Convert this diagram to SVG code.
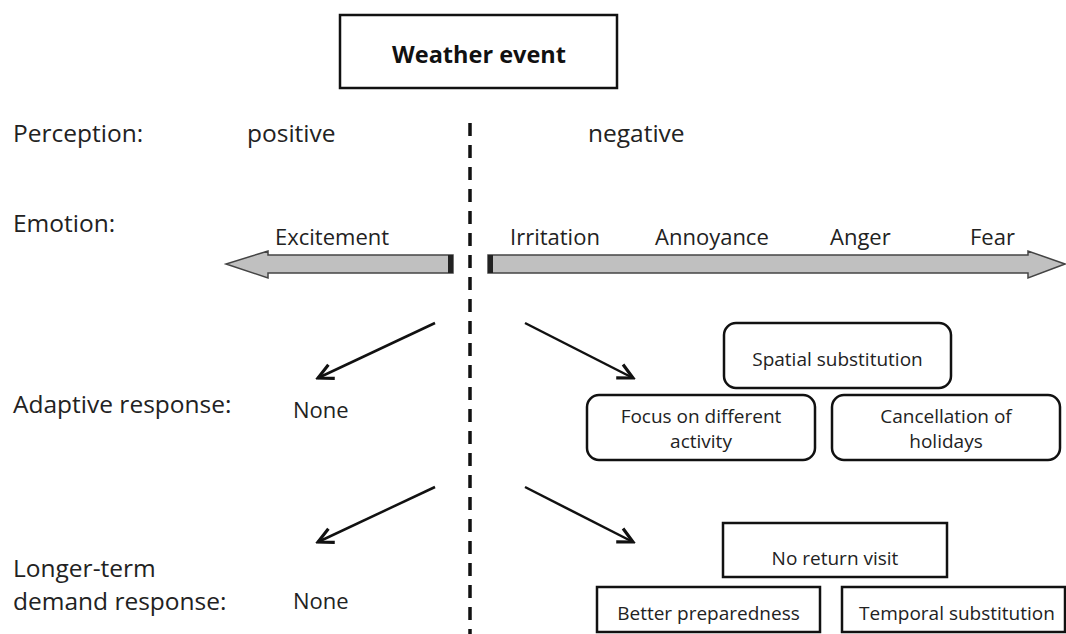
<svg xmlns="http://www.w3.org/2000/svg" width="1066" height="634" viewBox="0 0 1066 634">
<defs>
<style>
.lbl{font-family:"Open Sans","Liberation Sans",sans-serif;font-size:24.5px;fill:#222}
.emo{font-family:"Open Sans","Liberation Sans",sans-serif;font-size:22px;fill:#222}
.bx{font-family:"Open Sans","Liberation Sans",sans-serif;font-size:19px;fill:#222;text-anchor:middle}
.box{fill:#fff;stroke:#111;stroke-width:2.5}
.big{fill:#c0c0c0;stroke:#444;stroke-width:1.5}
.conn{stroke:#111;stroke-width:2.5;fill:none}
</style>
<marker id="ah" markerUnits="userSpaceOnUse" markerWidth="20" markerHeight="20" viewBox="-14 -8 16 16" refX="0" refY="0" orient="auto">
<path d="M -12 -6 L 0 0 L -12 6" fill="none" stroke="#111" stroke-width="2.5"/>
</marker>
</defs>
<rect width="1066" height="634" fill="#fff"/>

<g id="weather-event">
<rect class="box" x="340" y="15" width="277" height="73"/>
<text x="479" y="63" text-anchor="middle" style="font-family:'Open Sans','Liberation Sans',sans-serif;font-size:23.5px;font-weight:bold;fill:#111">Weather event</text>
</g>

<g id="labels">
<text class="lbl" x="13" y="142">Perception:</text>
<text class="lbl" x="247" y="142">positive</text>
<text class="lbl" x="588" y="142">negative</text>
<text class="lbl" x="13" y="232">Emotion:</text>
<text class="lbl" x="13" y="413">Adaptive response:</text>
<text class="emo" x="293" y="418">None</text>
<text class="lbl" x="13" y="577">Longer-term</text>
<text class="lbl" x="13" y="610">demand response:</text>
<text class="emo" x="293" y="609">None</text>
</g>

<g id="divider">
<line x1="470" y1="123" x2="470" y2="634" stroke="#111" stroke-width="3.5" stroke-dasharray="13 9"/>
</g>

<g id="emotion-positive">
<polygon class="big" points="453,255 268,255 268,251 226,264 268,278 268,273 453,273"/>
<rect x="448" y="255" width="5" height="18" fill="#222"/>
<text class="emo" x="275" y="245">Excitement</text>
</g>

<g id="emotion-negative">
<polygon class="big" points="488,255 1028,255 1028,251 1065,264 1028,278 1028,273 488,273"/>
<rect x="488" y="255" width="5" height="18" fill="#222"/>
<text class="emo" x="510" y="245">Irritation</text>
<text class="emo" x="655" y="245">Annoyance</text>
<text class="emo" x="830" y="245">Anger</text>
<text class="emo" x="970" y="245">Fear</text>
</g>

<g id="connectors">
<line class="conn" x1="435" y1="323" x2="318" y2="378" marker-end="url(#ah)"/>
<line class="conn" x1="525" y1="323" x2="633" y2="378" marker-end="url(#ah)"/>
<line class="conn" x1="435" y1="487" x2="318" y2="542" marker-end="url(#ah)"/>
<line class="conn" x1="525" y1="487" x2="633" y2="542" marker-end="url(#ah)"/>
</g>

<g id="spatial-substitution">
<rect class="box" x="724" y="323" width="227" height="65" rx="12"/>
<text class="bx" x="837.5" y="366">Spatial substitution</text>
</g>
<g id="focus-different-activity">
<rect class="box" x="587" y="395" width="228" height="65" rx="12"/>
<text class="bx" x="701" y="423">Focus on different</text>
<text class="bx" x="701" y="448">activity</text>
</g>
<g id="cancellation-holidays">
<rect class="box" x="832" y="395" width="228" height="65" rx="12"/>
<text class="bx" x="946" y="423">Cancellation of</text>
<text class="bx" x="946" y="448">holidays</text>
</g>

<g id="no-return-visit">
<rect class="box" x="723" y="523" width="224" height="54"/>
<text class="bx" x="835" y="565">No return visit</text>
</g>
<g id="better-preparedness">
<rect class="box" x="597" y="587" width="223" height="45"/>
<text class="bx" x="708.5" y="620">Better preparedness</text>
</g>
<g id="temporal-substitution">
<rect class="box" x="842" y="587" width="223" height="45"/>
<text class="bx" x="957" y="620">Temporal substitution</text>
</g>
</svg>
